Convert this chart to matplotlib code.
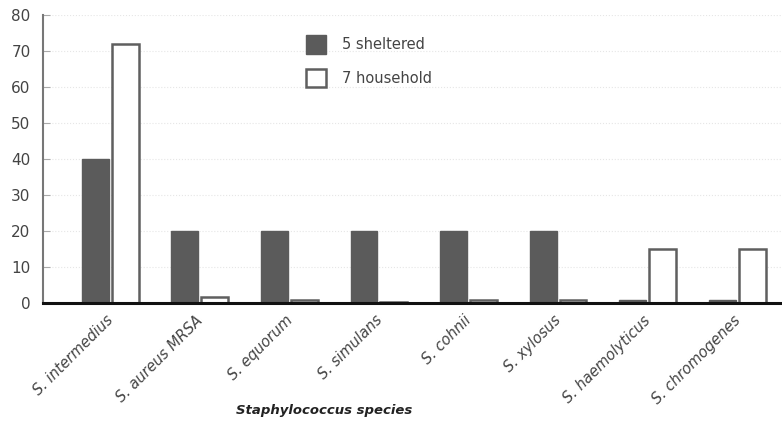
import numpy as np
from matplotlib import pyplot as plt

species = ['S. intermedius', 'S. aureus MRSA', 'S. equorum', 'S. simulans',
           'S. cohnii', 'S. xylosus', 'S. haemolyticus', 'S. chromogenes']
sheltered = [40, 20, 20, 20, 20, 20, 0.8, 0.8]
household = [72, 1.5, 0.8, 0.3, 0.8, 0.8, 15, 15]
yticks = [0, 10, 20, 30, 40, 50, 60, 70, 80]

fig = plt.figure(figsize=(7.82, 4.26), dpi=100)
ax = fig.add_axes([0.055, 0.289, 0.945, 0.676])

x = np.arange(len(species))
w = 0.3
ax.bar(x - w / 2 - 0.017, sheltered, w, color='#5b5b5b', edgecolor='#5b5b5b',
       label='5 sheltered')
ax.bar(x + w / 2 + 0.017, household, w, color='white', edgecolor='#5f5f5f',
       linewidth=1.8, label='7 household')

ax.set_xlim(-0.75, 7.5)
ax.set_ylim(0, 80)
ax.set_yticks(yticks)
ax.set_yticklabels([str(t) for t in yticks], color='#444444', fontsize=11)
ax.yaxis.grid(True, color='#e6e6e6', linestyle=':', linewidth=0.8)
ax.set_axisbelow(True)
ax.tick_params(axis='y', direction='in', length=5, color='#aaaaaa', pad=9)
ax.tick_params(axis='x', length=0, pad=7)

ax.set_xticks(x - 0.05)
ax.set_xticklabels(species, rotation=45, ha='right', rotation_mode='anchor',
                   fontstyle='italic', fontsize=10.5, color='#444444')

for s in ['top', 'right']:
    ax.spines[s].set_visible(False)
ax.spines['left'].set_color('#777777')
ax.spines['left'].set_linewidth(1.5)
ax.spines['bottom'].set_color('#111111')
ax.spines['bottom'].set_linewidth(2.2)

ax.set_xlabel('Staphylococcus species', fontweight='bold', fontstyle='italic',
              fontsize=9.5, color='#222222')
ax.xaxis.set_label_coords(0.38, -0.35)

ax.legend(loc='upper left', bbox_to_anchor=(0.338, 0.975), frameon=False,
          fontsize=10.5, handlelength=1.4, handleheight=1.6, labelspacing=1.0,
          handletextpad=1.1, labelcolor='#444444')

fig.savefig('out.png')
